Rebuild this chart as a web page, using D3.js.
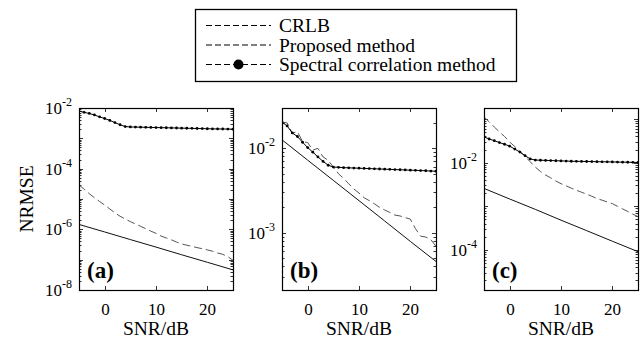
<!DOCTYPE html>
<html><head><meta charset="utf-8">
<script src="https://cdn.jsdelivr.net/npm/d3@7"></script>
<style>body{margin:0;background:#fff}svg{display:block}</style>
</head><body>
<script>
// ---------- data ----------
const snr = d3.range(-5, 26, 1);
const crlbSnr = [-5, 0, 5, 10, 15, 20, 25];
const legendLabels = ["CRLB", "Proposed method", "Spectral correlation method"];
const panelTags = ["(a)", "(b)", "(c)"];
const xTicks = [0, 10, 20];

const crlbA = [1.45e-6, 8.2e-7, 4.6e-7, 2.6e-7, 1.45e-7, 8.2e-8, 4.6e-8];
const propA = [2.9e-5,2.1e-5,1.5e-5,1.1e-5,8.3e-6,6.3e-6,4.7e-6,3.5e-6,2.7e-6,2.2e-6,1.8e-6,1.5e-6,1.26e-6,1.05e-6,8.7e-7,7.4e-7,6.0e-7,5.2e-7,4.5e-7,3.8e-7,3.3e-7,3.0e-7,2.75e-7,2.5e-7,2.3e-7,2.1e-7,1.9e-7,1.66e-7,1.5e-7,1.26e-7,9.5e-8];
const specA = [7.9e-3,7.2e-3,6.6e-3,5.9e-3,5.1e-3,4.5e-3,3.9e-3,3.3e-3,2.8e-3,2.45e-3,2.37e-3,2.35e-3,2.33e-3,2.31e-3,2.29e-3,2.27e-3,2.25e-3,2.23e-3,2.21e-3,2.19e-3,2.17e-3,2.15e-3,2.13e-3,2.11e-3,2.09e-3,2.07e-3,2.05e-3,2.04e-3,2.03e-3,2.02e-3,2.01e-3];

const crlbB = [0.0126, 0.00724, 0.00417, 0.0024, 0.00138, 0.00079, 0.000457];
const propB = [0.0204,0.0200,0.0151,0.0158,0.0120,0.0117,0.0095,0.0100,0.0079,0.0072,0.0060,0.0050,0.0044,0.0038,0.0033,0.00295,0.0026,0.0024,0.0022,0.0020,0.00186,0.00174,0.00162,0.00158,0.00151,0.00145,0.00112,0.00091,0.00089,0.00083,0.00069];
const specB = [0.0204,0.0184,0.0152,0.0138,0.0118,0.0102,0.0090,0.0079,0.0070,0.0063,0.0060,0.00595,0.0059,0.00587,0.00584,0.00581,0.00578,0.00575,0.00572,0.00569,0.00566,0.00563,0.0056,0.00557,0.00554,0.00551,0.00548,0.00545,0.00542,0.00538,0.00535];

const crlbC = [2.57e-3, 1.47e-3, 8.5e-4, 4.8e-4, 2.76e-4, 1.58e-4, 9.1e-5];
const propC = [0.112,0.087,0.066,0.051,0.040,0.030,0.0234,0.0182,0.0141,0.0105,0.0079,0.0063,0.0052,0.0045,0.0038,0.0033,0.00295,0.0026,0.00234,0.0021,0.0019,0.0017,0.00151,0.00138,0.00126,0.00115,0.0010,0.00087,0.00076,0.00066,0.00058];
const specC = [0.039,0.035,0.032,0.029,0.0265,0.024,0.0205,0.0175,0.0145,0.0122,0.0115,0.0114,0.0113,0.0112,0.0111,0.0110,0.0109,0.0108,0.01075,0.0107,0.01065,0.0106,0.01055,0.0105,0.01045,0.0104,0.01035,0.0103,0.01025,0.0102,0.0101];

const yDomains = [[1e-8, 1e-2], [2.1e-4, 3e-2], [1.2e-5, 0.18]];
const yLabelExps = [[-2, -4, -6, -8], [-2, -3], [-2, -4]];

// ---------- layout ----------
const W = 642, H = 340;
const font = "'Liberation Serif','Times New Roman',serif";
const plotTop = 108, plotBottom = 290;
const lefts = [79, 282, 484], pw = 154;
const panels = [
  {crlb: crlbA, prop: propA, spec: specA},
  {crlb: crlbB, prop: propB, spec: specB},
  {crlb: crlbC, prop: propC, spec: specC}
];

const svg = d3.select("body").append("svg").attr("width", W).attr("height", H)
  .style("font-family", font);

panels.forEach((p, i) => {
  const x = d3.scaleLinear().domain([-5, 25]).range([lefts[i], lefts[i] + pw]);
  const y = d3.scaleLog().domain(yDomains[i]).range([plotBottom, plotTop]);
  const g = svg.append("g");
  const clipId = "clip" + i;
  svg.append("clipPath").attr("id", clipId).append("rect")
    .attr("x", lefts[i]).attr("y", plotTop).attr("width", pw).attr("height", plotBottom - plotTop);

  const [lo, hi] = yDomains[i];
  const ticks = [];
  for (let k = Math.floor(Math.log10(lo)); k <= Math.ceil(Math.log10(hi)); k++) {
    for (let m = 1; m <= 9; m++) {
      const v = m * Math.pow(10, k);
      if (v >= lo * 0.999 && v <= hi * 1.001) ticks.push({v, major: m === 1});
    }
  }
  ticks.forEach(t => {
    const yy = Math.round(y(t.v)) + 0.5;
    const len = t.major ? 4 : 2.5;
    g.append("line").attr("x1", lefts[i]).attr("x2", lefts[i] + len).attr("y1", yy).attr("y2", yy)
      .attr("stroke", "#000").attr("stroke-width", 0.8);
    g.append("line").attr("x1", lefts[i] + pw - len).attr("x2", lefts[i] + pw).attr("y1", yy).attr("y2", yy)
      .attr("stroke", "#000").attr("stroke-width", 0.8);
  });
  xTicks.forEach(t => {
    const xx = Math.round(x(t)) + 0.5;
    g.append("line").attr("x1", xx).attr("x2", xx).attr("y1", plotBottom).attr("y2", plotBottom - 4)
      .attr("stroke", "#000").attr("stroke-width", 0.8);
    g.append("line").attr("x1", xx).attr("x2", xx).attr("y1", plotTop).attr("y2", plotTop + 4)
      .attr("stroke", "#000").attr("stroke-width", 0.8);
    g.append("text").attr("x", xx).attr("y", plotBottom + 25).attr("text-anchor", "middle")
      .attr("font-size", 17).text(t);
  });
  yLabelExps[i].forEach(e => {
    const yy = y(Math.pow(10, e));
    const t = g.append("text").attr("x", lefts[i] - 7).attr("y", yy + 6)
      .attr("text-anchor", "end").attr("font-size", 17);
    t.append("tspan").text("10");
    t.append("tspan").attr("font-size", 12).attr("dy", -8).text("-" + Math.abs(e));
  });

  const line = d3.line().x(d => x(d[0])).y(d => y(d[1]));
  const cg = g.append("g").attr("clip-path", `url(#${clipId})`);
  cg.append("path").attr("d", line(crlbSnr.map((s, j) => [s, p.crlb[j]])))
    .attr("fill", "none").attr("stroke", "#111").attr("stroke-width", 1);
  cg.append("path").attr("d", line(snr.map((s, j) => [s, p.prop[j]])))
    .attr("fill", "none").attr("stroke", "#555").attr("stroke-width", 1)
    .attr("stroke-dasharray", "8,4");
  cg.append("path").attr("d", line(snr.map((s, j) => [s, p.spec[j]])))
    .attr("fill", "none").attr("stroke", "#000").attr("stroke-width", 1);
  cg.selectAll("circle.m").data(snr.map((s, j) => [s, p.spec[j]])).enter().append("circle")
    .attr("cx", d => x(d[0])).attr("cy", d => y(d[1])).attr("r", 1.4).attr("fill", "#000");

  g.append("rect").attr("x", lefts[i] + 0.5).attr("y", plotTop + 0.5).attr("width", pw).attr("height", plotBottom - plotTop)
    .attr("fill", "none").attr("stroke", "#000").attr("stroke-width", 1.2);

  g.append("text").attr("x", lefts[i] + 8).attr("y", plotBottom - 12).attr("font-size", 23)
    .attr("font-weight", "bold").text(panelTags[i]);
  g.append("text").attr("x", lefts[i] + pw / 2).attr("y", 335).attr("text-anchor", "middle")
    .attr("font-size", 19.5).text("SNR/dB");
});

svg.append("text").attr("transform", `translate(33,${(plotTop + plotBottom) / 2}) rotate(-90)`)
  .attr("text-anchor", "middle").attr("font-size", 19.5).text("NRMSE");

// ---------- legend ----------
const lg = svg.append("g");
lg.append("rect").attr("x", 195.5).attr("y", 9.5).attr("width", 321).attr("height", 72)
  .attr("fill", "#fff").attr("stroke", "#000").attr("stroke-width", 1.3);
const rowY = [25.5, 45, 64.5];
legendLabels.forEach((lab, k) => {
  lg.append("line").attr("x1", 206).attr("x2", 271).attr("y1", rowY[k]).attr("y2", rowY[k])
    .attr("stroke", "#000").attr("stroke-width", 1).attr("stroke-dasharray", "6,3");
  if (k === 2) lg.append("circle").attr("cx", 238.5).attr("cy", rowY[k]).attr("r", 5).attr("fill", "#000");
  lg.append("text").attr("x", 279).attr("y", rowY[k] + 6.5).attr("font-size", 19.5).text(lab);
});
</script>
</body></html>
